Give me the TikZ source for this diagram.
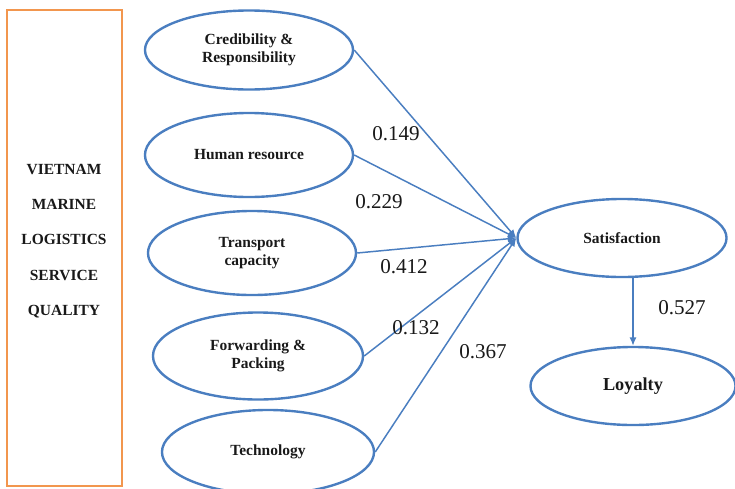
\documentclass[tikz,border=0pt]{standalone}
\usepackage{fontspec}
\setmainfont{Liberation Serif}
\usepackage{tikz}
\usetikzlibrary{arrows.meta,shapes.geometric}
\usepackage{xcolor}
\definecolor{framecol}{RGB}{242,150,78}
\definecolor{linkcol}{RGB}{74,126,192}
\definecolor{txtcol}{RGB}{25,25,25}

\begin{document}
\begin{tikzpicture}[x=0.025cm, y=-0.025cm,
    construct/.style={ellipse, draw=linkcol, line width=1.7pt, inner sep=0pt,
        minimum width=5.2cm, minimum height=2.1cm, align=center, text=txtcol,
        font=\fontsize{11}{12.8}\selectfont\bfseries},
    link/.style={draw=linkcol, line width=1.05pt, -{Latex[length=6pt,width=5pt]}},
    coef/.style={text=txtcol, font=\fontsize{15}{17}\selectfont}]
    \useasboundingbox (0,0) rectangle (735,488);

    % --- 1. THE ORANGE FRAME ---
    \draw[framecol, line width=1.7pt] (7,10) rectangle (122,486);
    \node[text=txtcol, align=center, font=\fontsize{11}{25}\selectfont\bfseries]
        (vmlsq) at (64,241) {VIETNAM\\MARINE\\LOGISTICS\\SERVICE\\QUALITY};

    % --- 2. THE FIVE DIMENSIONS ---
    \node[construct, minimum height=1.975cm] (cred) at (249,50) {Credibility \&\\Responsibility};
    \node[construct] (human) at (249,155) {Human resource};
    \node[construct] (trans) at (252,253) {Transport\\capacity};
    \node[construct, minimum width=5.25cm, minimum height=2.175cm] (forw) at (258,356) {Forwarding \&\\Packing};
    \node[construct, minimum width=5.3cm] (tech) at (268,452) {Technology};

    % --- 3. OUTCOMES ---
    \node[construct, minimum width=5.225cm, minimum height=1.95cm] (sat) at (622,238) {Satisfaction};
    \node[construct, minimum width=5.125cm, minimum height=1.95cm,
        font=\fontsize{13}{15}\selectfont\bfseries] (loy) at (633,386) {Loyalty};

    % --- 4. PATHS & COEFFICIENTS ---
    \foreach \src in {cred, human, trans, forw, tech} {
        \draw[link] (\src.east) -- (sat.west);
    }
    \draw[link] (sat.south -| loy.north) -- (loy.north);

    \node[coef] (c1) at (396,134) {0.149};
    \node[coef] (c2) at (379,202) {0.229};
    \node[coef] (c3) at (404,267) {0.412};
    \node[coef] (c4) at (416,328) {0.132};
    \node[coef] (c5) at (483,352) {0.367};
    \node[coef] (c6) at (682,308) {0.527};

\end{tikzpicture}
\end{document}
